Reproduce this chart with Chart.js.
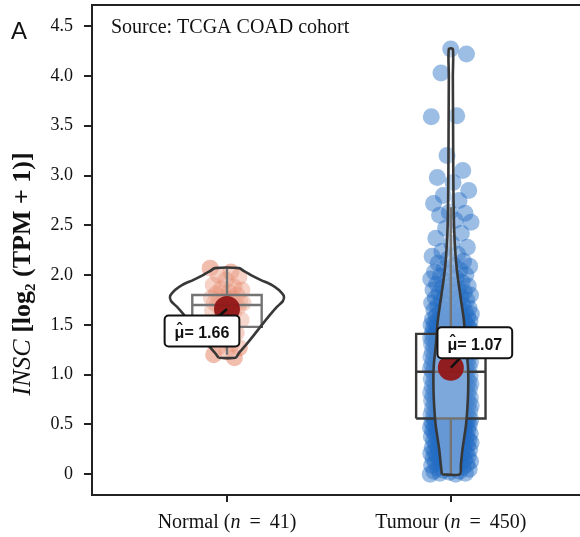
<!DOCTYPE html>
<html>
<head>
<meta charset="utf-8">
<script src="https://cdn.jsdelivr.net/npm/chart.js@4.4.1/dist/chart.umd.min.js"></script>
<style>
  html, body { margin: 0; padding: 0; background: #fff; }
  canvas { display: block; }
</style>
</head>
<body>
<canvas id="chart" width="580" height="537"></canvas>
<script>
// ---- data ----
const groups = ['Normal', 'Tumour'];
const groupCounts = [41, 450];

// INSC expression, log2(TPM + 1)
const normalValues = [
  2.07, 2.03, 2.00, 1.98, 1.95, 1.90, 1.88, 1.86, 1.85, 1.83,
  1.81, 1.80, 1.78, 1.77, 1.76, 1.74, 1.73, 1.72, 1.72, 1.71,
  1.73, 1.72, 1.71, 1.70, 1.68, 1.66, 1.64, 1.61, 1.58, 1.55,
  1.50, 1.46, 1.42, 1.39, 1.35, 1.31, 1.28, 1.27, 1.23, 1.20,
  1.17
];

const tumourValues = [
  0.00, 0.00, 0.01, 0.01, 0.02, 0.03, 0.03, 0.04, 0.05, 0.06, 0.06, 0.07, 0.08, 0.09, 0.09,
  0.10, 0.10, 0.11, 0.12, 0.12, 0.13, 0.13, 0.14, 0.15, 0.15, 0.16, 0.16, 0.17, 0.18, 0.18, 0.19, 0.19,
  0.20, 0.20, 0.21, 0.21, 0.22, 0.22, 0.23, 0.23, 0.24, 0.24, 0.25, 0.25, 0.26, 0.26, 0.27, 0.27, 0.28, 0.28, 0.29,
  0.30, 0.30, 0.31, 0.31, 0.32, 0.32, 0.33, 0.33, 0.34, 0.34, 0.35, 0.35, 0.35, 0.36, 0.36, 0.37, 0.37, 0.38, 0.38, 0.39, 0.39,
  0.40, 0.40, 0.41, 0.41, 0.41, 0.42, 0.42, 0.43, 0.43, 0.44, 0.44, 0.44, 0.45, 0.45, 0.46, 0.46, 0.46, 0.47, 0.47, 0.48, 0.48, 0.49, 0.49, 0.49,
  0.50, 0.50, 0.50, 0.51, 0.51, 0.51, 0.52, 0.52, 0.53, 0.53, 0.53, 0.54, 0.54, 0.55, 0.55, 0.55,
  0.56, 0.56, 0.57, 0.57, 0.57, 0.58, 0.58, 0.59, 0.59, 0.59,
  0.60, 0.60, 0.61, 0.61, 0.61, 0.62, 0.62, 0.63, 0.63, 0.64, 0.64, 0.64, 0.65, 0.65, 0.66, 0.66, 0.66, 0.67, 0.67, 0.68, 0.68, 0.69, 0.69, 0.69,
  0.70, 0.70, 0.71, 0.71, 0.71, 0.72, 0.72, 0.73, 0.73, 0.73, 0.74, 0.74, 0.75, 0.75, 0.75, 0.76, 0.76, 0.77, 0.77, 0.77, 0.78, 0.78, 0.79, 0.79, 0.79,
  0.80, 0.80, 0.80, 0.81, 0.81, 0.82, 0.82, 0.82, 0.83, 0.83, 0.84, 0.84, 0.84, 0.85, 0.85, 0.86, 0.86, 0.86, 0.87, 0.87, 0.88, 0.88, 0.88, 0.89, 0.89, 0.89,
  0.90, 0.90, 0.91, 0.91, 0.91, 0.92, 0.92, 0.93, 0.93, 0.93, 0.94, 0.94, 0.95, 0.95, 0.95, 0.96, 0.96, 0.97, 0.97, 0.97, 0.98, 0.98, 0.99, 0.99, 0.99,
  1.00, 1.01, 1.02,
  1.03, 1.03, 1.04, 1.04, 1.04, 1.05, 1.05, 1.05, 1.06, 1.06, 1.06, 1.07, 1.07, 1.07, 1.08, 1.08, 1.08, 1.09, 1.09,
  1.10, 1.10, 1.10, 1.11, 1.11, 1.11, 1.12, 1.12, 1.12, 1.13, 1.13, 1.13, 1.14, 1.14, 1.15, 1.15, 1.15, 1.16, 1.16, 1.16, 1.17, 1.17, 1.18, 1.18, 1.18, 1.19, 1.19,
  1.20, 1.20, 1.20, 1.21, 1.21, 1.22, 1.22, 1.22, 1.23, 1.23, 1.24, 1.24, 1.24, 1.25, 1.25, 1.26, 1.26, 1.26, 1.27, 1.27, 1.28, 1.28, 1.28, 1.29, 1.29, 1.29,
  1.30, 1.30, 1.30, 1.30, 1.31, 1.31, 1.31, 1.32, 1.32, 1.32, 1.33, 1.33, 1.33, 1.34, 1.34, 1.34, 1.35, 1.35, 1.35, 1.35,
  1.36, 1.36, 1.36, 1.37, 1.37, 1.37, 1.38, 1.38, 1.38, 1.38, 1.39, 1.39, 1.39, 1.40, 1.40, 1.40, 1.40, 1.41, 1.41, 1.41,
  1.42, 1.42, 1.43, 1.43, 1.44, 1.44, 1.45, 1.45, 1.45, 1.46, 1.46, 1.47, 1.47, 1.48, 1.48, 1.48, 1.49, 1.49, 1.49,
  1.50, 1.50, 1.51, 1.51, 1.52, 1.52, 1.53, 1.53, 1.54, 1.54, 1.55, 1.55, 1.56, 1.56, 1.57, 1.57, 1.58, 1.58, 1.59,
  1.60, 1.61, 1.61, 1.62, 1.63, 1.63, 1.64, 1.65, 1.66, 1.66, 1.67, 1.68, 1.69,
  1.70, 1.71, 1.72, 1.73, 1.74, 1.75, 1.76, 1.77, 1.78, 1.79,
  1.80, 1.81, 1.82, 1.83, 1.84, 1.85, 1.86, 1.88, 1.89,
  1.90, 1.91, 1.93, 1.94, 1.96, 1.97, 1.99,
  2.00, 2.02, 2.03, 2.05, 2.07, 2.09,
  2.10, 2.12, 2.14, 2.16, 2.19,
  2.21, 2.24, 2.28,
  2.32, 2.37,
  2.42, 2.47,
  2.53, 2.55,
  2.60, 2.62, 2.63,
  2.72, 2.75, 2.80, 2.85, 2.93, 2.98, 3.05, 3.20, 3.59, 3.60, 4.03, 4.22, 4.27
];

// group means (shown in the labels)
const means = [1.66, 1.07];

// box-plot summaries per group
const whiskerLow  = [1.20, 0.00];
const quartile1   = [1.48, 0.56];
const medians     = [1.70, 1.03];
const quartile3   = [1.80, 1.41];
const whiskerHigh = [2.07, 2.68];

// violin outlines: heights and half-widths (in category units)
const normalViolinY     = [1.17, 1.22, 1.30, 1.40, 1.50, 1.60, 1.68, 1.74, 1.79, 1.85, 1.90, 1.95, 2.00, 2.04, 2.07];
const normalViolinWidth = [0.038, 0.054, 0.085, 0.121, 0.156, 0.192, 0.223, 0.250, 0.254, 0.232, 0.201, 0.152, 0.107, 0.076, 0.054];
const tumourViolinY     = [0.00, 0.10, 0.25, 0.50, 0.75, 0.95, 1.10, 1.30, 1.55, 1.80, 2.05, 2.30, 2.60, 3.00, 3.50, 4.00, 4.27];
const tumourViolinWidth = [0.040, 0.045, 0.052, 0.068, 0.076, 0.078, 0.076, 0.067, 0.058, 0.042, 0.027, 0.018, 0.013, 0.011, 0.010, 0.009, 0.009];

const yTicks      = [0, 0.5, 1.0, 1.5, 2.0, 2.5, 3.0, 3.5, 4.0, 4.5];
const yTickLabels = ['0', '0.5', '1.0', '1.5', '2.0', '2.5', '3.0', '3.5', '4.0', '4.5'];

// ---- styling ----
const SERIF = '"Liberation Serif", "Times New Roman", serif';
const SANS  = '"Liberation Sans", Arial, sans-serif';
const INK   = '#222';
const OUTLINE = '#383838';
const pointColours = ['rgba(222,98,60,0.42)', 'rgba(35,108,196,0.45)'];
const jitterSpread = [0.075, 0.092];
const labelShift = [[-25, 22], [24, -25]];

// low-discrepancy horizontal jitter so the points spread evenly
function jitter(i) {
  return ((i * 0.6180339887) % 1) * 2 - 1;
}

function pointSet(values, g) {
  return values.map((v, i) => ({ x: g + jitter(i) * jitterSpread[g], y: v }));
}

function violinShape(g, ys, ws) {
  const left = ys.map((y, i) => ({ x: g - ws[i], y }));
  const right = ys.map((y, i) => ({ x: g + ws[i], y })).reverse();
  return [...left, ...right, left[0]];
}

const BOX_HALF = 0.155;
function boxShape(g) {
  return [
    { x: g - BOX_HALF, y: quartile1[g] }, { x: g + BOX_HALF, y: quartile1[g] },
    { x: g + BOX_HALF, y: quartile3[g] }, { x: g - BOX_HALF, y: quartile3[g] },
    { x: g - BOX_HALF, y: quartile1[g] }
  ];
}
function boxLines(g) {
  return [
    { x: g - BOX_HALF, y: medians[g] }, { x: g + BOX_HALF, y: medians[g] }, { x: g, y: null },
    { x: g, y: quartile3[g] }, { x: g, y: whiskerHigh[g] }, { x: g, y: null },
    { x: g, y: quartile1[g] }, { x: g, y: whiskerLow[g] }
  ];
}

const datasets = [];
[normalValues, tumourValues].forEach((vals, g) => {
  datasets.push({
    data: pointSet(vals, g), order: 10,
    pointRadius: 8.5, pointBackgroundColor: pointColours[g], pointBorderWidth: 0
  });
});
[0, 1].forEach(g => {
  datasets.push({
    data: boxShape(g), order: 6, showLine: true, pointRadius: 0,
    borderColor: OUTLINE, borderWidth: 2.4, backgroundColor: 'rgba(255,255,255,0.15)', fill: 'shape'
  });
  datasets.push({
    data: boxLines(g), order: 5, showLine: true, spanGaps: false, pointRadius: 0,
    borderColor: OUTLINE, borderWidth: 2.4, fill: false
  });
});
datasets.push({
  data: violinShape(0, normalViolinY, normalViolinWidth), order: 4, showLine: true, pointRadius: 0,
  tension: 0.25, borderColor: OUTLINE, borderWidth: 2.6, backgroundColor: 'rgba(255,255,255,0.3)', fill: 'shape'
});
datasets.push({
  data: violinShape(1, tumourViolinY, tumourViolinWidth), order: 4, showLine: true, pointRadius: 0,
  tension: 0.25, borderColor: OUTLINE, borderWidth: 2.6, backgroundColor: 'rgba(255,255,255,0.3)', fill: 'shape'
});
datasets.push({
  data: means.map((m, g) => ({ x: g, y: m })), order: 1,
  pointRadius: 13, pointBackgroundColor: 'rgba(145,22,22,0.95)', pointBorderWidth: 0
});

// ---- annotations drawn on top of the plot ----
function drawRuns(ctx, runs, startX, y) {
  let x = startX;
  runs.forEach(r => {
    ctx.font = r.font;
    ctx.fillText(r.text, x, y + (r.dy || 0));
    x += ctx.measureText(r.text).width + (r.gap || 0);
  });
}
function runsWidth(ctx, runs) {
  let w = 0;
  runs.forEach(r => { ctx.font = r.font; w += ctx.measureText(r.text).width + (r.gap || 0); });
  return w;
}

const annotations = {
  id: 'annotations',
  afterDatasetsDraw(chart) {
    const { ctx, scales: { x, y } } = chart;
    means.forEach((m, g) => {
      const px = x.getPixelForValue(g), py = y.getPixelForValue(m);
      const cx = px + labelShift[g][0], cy = py + labelShift[g][1];
      ctx.save();
      ctx.strokeStyle = '#111';
      ctx.lineWidth = 2.6;
      ctx.beginPath(); ctx.moveTo(px, py); ctx.lineTo(cx, cy); ctx.stroke();

      ctx.font = 'bold 16px ' + SANS;
      const mu = 'μ', rest = '= ' + m.toFixed(2);
      const muW = ctx.measureText(mu).width;
      const textW = muW + ctx.measureText(rest).width;
      const w = textW + 20, h = 31;
      ctx.beginPath();
      ctx.roundRect(cx - w / 2, cy - h / 2, w, h, 4);
      ctx.fillStyle = '#fff'; ctx.fill();
      ctx.lineWidth = 2; ctx.strokeStyle = '#111'; ctx.stroke();

      ctx.fillStyle = '#111';
      ctx.textAlign = 'left'; ctx.textBaseline = 'alphabetic';
      const x0 = cx - textW / 2, base = cy + 7;
      ctx.fillText(mu, x0, base);
      ctx.fillText(rest, x0 + muW, base);
      // circumflex over the mu
      ctx.textAlign = 'center';
      ctx.fillText('ˆ', x0 + muW / 2, base - 3);
      ctx.restore();
    });
  },
  afterDraw(chart) {
    const { ctx, chartArea, scales: { x } } = chart;
    ctx.save();
    // top frame line
    ctx.strokeStyle = INK; ctx.lineWidth = 2;
    ctx.beginPath(); ctx.moveTo(chartArea.left - 1, chartArea.top); ctx.lineTo(chartArea.right, chartArea.top); ctx.stroke();

    ctx.fillStyle = '#111';
    ctx.textBaseline = 'alphabetic';
    ctx.textAlign = 'left';

    // category labels with italic n
    groups.forEach((name, g) => {
      const runs = [
        { text: name + ' (', font: '20px ' + SERIF },
        { text: 'n', font: 'italic 20px ' + SERIF, gap: 4 },
        { text: ' = ', font: '20px ' + SERIF, gap: 4 },
        { text: groupCounts[g] + ')', font: '20px ' + SERIF }
      ];
      const w = runsWidth(ctx, runs);
      drawRuns(ctx, runs, x.getPixelForValue(g) - w / 2, chartArea.bottom + 33);
    });

    // source note
    ctx.font = '20px ' + SERIF;
    ctx.fillText('Source: TCGA COAD cohort', chartArea.left + 19, chartArea.top + 28);

    // panel letter
    ctx.font = '24px ' + SANS;
    ctx.fillText('A', 11, 39);

    // y-axis title
    ctx.translate(30, 274);
    ctx.rotate(-Math.PI / 2);
    const titleRuns = [
      { text: 'INSC', font: 'italic 26px ' + SERIF },
      { text: ' [log', font: 'bold 26px ' + SERIF },
      { text: '2', font: 'bold 15px ' + SERIF, dy: 5 },
      { text: ' (TPM + 1)]', font: 'bold 26px ' + SERIF }
    ];
    const tw = runsWidth(ctx, titleRuns);
    drawRuns(ctx, titleRuns, -tw / 2, 0);
    ctx.restore();
  }
};

new Chart(document.getElementById('chart'), {
  type: 'scatter',
  data: { datasets },
  options: {
    responsive: false,
    animation: false,
    devicePixelRatio: 1,
    events: [],
    layout: { autoPadding: false, padding: { top: 5, left: 0, right: 0, bottom: 0 } },
    plugins: { legend: { display: false }, tooltip: { enabled: false } },
    scales: {
      x: {
        type: 'linear', min: -0.603, max: 1.577,
        afterBuildTicks: s => { s.ticks = groups.map((_, g) => ({ value: g })); },
        afterFit: s => { s.height = 42; s.paddingLeft = 0; s.paddingRight = 0; },
        ticks: { callback: () => '', padding: 0 },
        grid: { drawOnChartArea: false, tickLength: 7, color: INK, lineWidth: 2 },
        border: { color: INK, width: 2 }
      },
      y: {
        type: 'linear', min: -0.208, max: 4.712,
        afterBuildTicks: s => { s.ticks = yTicks.map(v => ({ value: v })); },
        afterFit: s => { s.width = 92; s.paddingTop = 0; s.paddingBottom = 0; },
        ticks: {
          callback: (v, i) => yTickLabels[i],
          font: { family: 'Liberation Serif', size: 18 },
          color: '#111', padding: 11
        },
        grid: { drawOnChartArea: false, tickLength: 8, color: INK, lineWidth: 2 },
        border: { color: INK, width: 2 }
      }
    }
  },
  plugins: [annotations]
});
</script>
</body>
</html>
